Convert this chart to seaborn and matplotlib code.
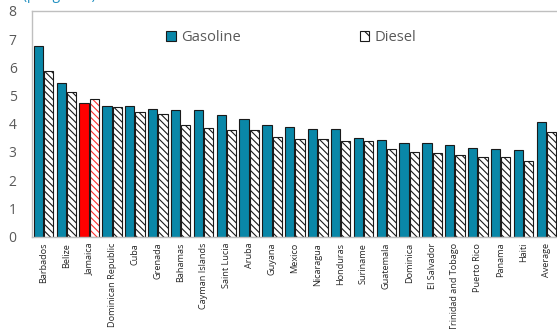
import numpy as np
import pandas as pd
import matplotlib
matplotlib.use('Agg')
import matplotlib.pyplot as plt
import seaborn as sns
from matplotlib.patches import Patch
from matplotlib.colors import to_rgba

# Data (US$ per gallon)
countries = ['Barbados', 'Belize', 'Jamaica', 'Dominican Republic', 'Cuba', 'Grenada',
             'Bahamas', 'Cayman Islands', 'Saint Lucia', 'Aruba', 'Guyana', 'Mexico',
             'Nicaragua', 'Honduras', 'Suriname', 'Guatemala', 'Dominica', 'El Salvador',
             'Trinidad and Tobago', 'Puerto Rico', 'Panama', 'Haiti', 'Average']
gasoline = [6.77, 5.44, 4.74, 4.62, 4.62, 4.52, 4.50, 4.48, 4.31, 4.17, 3.97, 3.90,
            3.81, 3.81, 3.51, 3.42, 3.32, 3.32, 3.25, 3.13, 3.09, 3.06, 4.07]
diesel = [5.87, 5.14, 4.87, 4.59, 4.41, 4.34, 3.95, 3.85, 3.78, 3.77, 3.52, 3.45,
          3.45, 3.37, 3.37, 3.10, 3.01, 2.96, 2.88, 2.81, 2.81, 2.67, 3.72]
highlight = 'Jamaica'

GAS_COLOR = '#0a87a8'
GRAY = '#595959'

df = pd.DataFrame({'country': countries, 'Gasoline': gasoline, 'Diesel': diesel})
long_df = df.melt(id_vars='country', var_name='fuel', value_name='price')

sns.set_style('white')
plt.rcParams['font.family'] = ['Open Sans', 'DejaVu Sans']
plt.rcParams['hatch.linewidth'] = 0.8

fig = plt.figure(figsize=(5.57, 3.29), dpi=100)
ax = fig.add_axes([0.0575, 0.281, 0.944, 0.686])

sns.barplot(data=long_df, x='country', y='price', hue='fuel',
            hue_order=['Gasoline', 'Diesel'], order=countries,
            palette={'Gasoline': GAS_COLOR, 'Diesel': 'white'},
            width=0.9, gap=0.1, saturation=1, legend=False, ax=ax)

gas_bars, diesel_bars = ax.containers[0], ax.containers[1]
for name, p in zip(countries, gas_bars):
    p.set_edgecolor('#1a1a1a')
    p.set_linewidth(0.8)
    if name == highlight:
        p.set_facecolor('#ff0000')
for name, p in zip(countries, diesel_bars):
    p.set_facecolor('white')
    p.set_edgecolor('#1a1a1a')
    p.set_linewidth(0.8)
    p.set_hatch('\\\\\\\\\\')
    if name == highlight:
        p._hatch_color = to_rgba('#ff3030')

ax.set_xlim(-0.5, len(countries) - 0.5)
ax.set_ylim(0, 8)
ax.set_yticks(range(0, 9))
ax.set_xlabel('')
ax.set_ylabel('')

ax.tick_params(axis='y', direction='in', length=4, color='#bfbfbf',
               labelsize=10, labelcolor=GRAY, pad=11)
ax.tick_params(axis='x', length=0, labelsize=6.6, labelcolor='#262626', pad=4.5)
plt.setp(ax.get_xticklabels(), rotation=90)

for side in ['left', 'top', 'bottom', 'right']:
    ax.spines[side].set_color('#bfbfbf')
    ax.spines[side].set_linewidth(1.0)

handles = [Patch(facecolor=GAS_COLOR, edgecolor='#1a1a1a', linewidth=0.8, label='Gasoline'),
           Patch(facecolor='white', edgecolor='#1a1a1a', linewidth=0.8, hatch='\\\\', label='Diesel')]
ax.legend(handles=handles, loc='center left', bbox_to_anchor=(0.255, 0.88), ncol=2,
          frameon=False, fontsize=10.6, labelcolor=GRAY, handlelength=0.65, handleheight=0.65,
          handletextpad=0.35, columnspacing=8.1, borderpad=0, borderaxespad=0)

# unit caption, cropped at the top edge in the reference (only descenders show)
fig.text(0.042, 1.0 + 1.0 / 329, '(per gallon)', color='#1f8fc0', fontsize=10,
         va='baseline', ha='left')

fig.savefig('out.png', dpi=100)
